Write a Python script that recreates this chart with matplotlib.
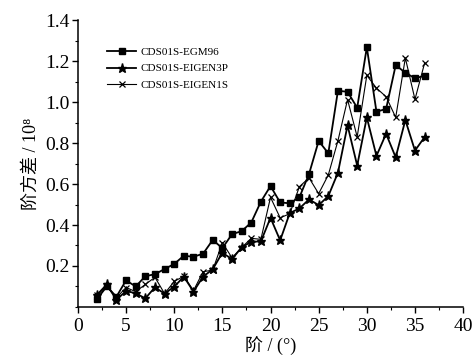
import numpy as np
import matplotlib
matplotlib.use("Agg")
import matplotlib.pyplot as plt
from matplotlib.ticker import MultipleLocator

plt.rcParams['font.family'] = ['Liberation Serif', 'Noto Sans CJK SC', 'DejaVu Sans']

# degree 2..36
deg = np.arange(2, 37)
egm96 = [0.04, 0.10, 0.05, 0.13, 0.10, 0.15, 0.16, 0.185, 0.21, 0.25, 0.245, 0.26, 0.327, 0.287,
         0.355, 0.37, 0.412, 0.514, 0.59, 0.51, 0.506, 0.535, 0.649, 0.81, 0.75, 1.055, 1.05,
         0.972, 1.267, 0.953, 0.966, 1.18, 1.143, 1.116, 1.128]
eigen3p = [0.06, 0.11, 0.035, 0.078, 0.067, 0.042, 0.096, 0.065, 0.099, 0.148, 0.075, 0.148,
           0.184, 0.265, 0.233, 0.291, 0.318, 0.32, 0.435, 0.325, 0.458, 0.481, 0.525, 0.497,
           0.541, 0.655, 0.886, 0.69, 0.925, 0.737, 0.845, 0.73, 0.912, 0.763, 0.829]
eigen1s = [0.06, 0.10, 0.045, 0.095, 0.075, 0.11, 0.145, 0.065, 0.125, 0.15, 0.08, 0.172,
           0.18, 0.314, 0.24, 0.29, 0.335, 0.33, 0.535, 0.435, 0.455, 0.587, 0.63, 0.553,
           0.644, 0.811, 1.012, 0.83, 1.13, 1.068, 1.026, 0.925, 1.215, 1.013, 1.19]

labels = ["CDS01S-EGM96", "CDS01S-EIGEN3P", "CDS01S-EIGEN1S"]

fig = plt.figure(figsize=(4.75, 3.58), dpi=100)
ax = fig.add_axes([0.164, 0.1425, 0.811, 0.8015])

ax.plot(deg, egm96, color="black", lw=1.3, marker="s", ms=4.5, label=labels[0])
ax.plot(deg, eigen3p, color="black", lw=1.3, marker="*", ms=6.5, label=labels[1])
ax.plot(deg, eigen1s, color="black", lw=0.8, marker="x", ms=4.5, mew=0.9, label=labels[2])

ax.set_xlim(0, 40)
ax.set_ylim(0, 1.4)
ax.xaxis.set_major_locator(MultipleLocator(5))
ax.xaxis.set_minor_locator(MultipleLocator(2.5))
ax.set_yticks([0.2, 0.4, 0.6, 0.8, 1.0, 1.2, 1.4])
ax.yaxis.set_minor_locator(MultipleLocator(0.1))
ax.tick_params(which="major", direction="out", length=4, width=1, labelsize=14, pad=2)
ax.tick_params(axis="x", which="major", pad=4)
ax.tick_params(which="minor", direction="out", length=2.5, width=0.8)
for s in ["top", "right"]:
    ax.spines[s].set_visible(False)
for s in ["left", "bottom"]:
    ax.spines[s].set_linewidth(1.1)

ax.set_xlabel("阶 / (°)", fontsize=13, labelpad=1)
ax.set_ylabel("阶方差 / 10⁸", fontsize=13, labelpad=4)

ax.legend(loc="upper left", bbox_to_anchor=(0.05, 0.94), frameon=False, fontsize=8,
          handlelength=2.6, labelspacing=0.6, handletextpad=0.4)

fig.savefig("out.png", dpi=100)
